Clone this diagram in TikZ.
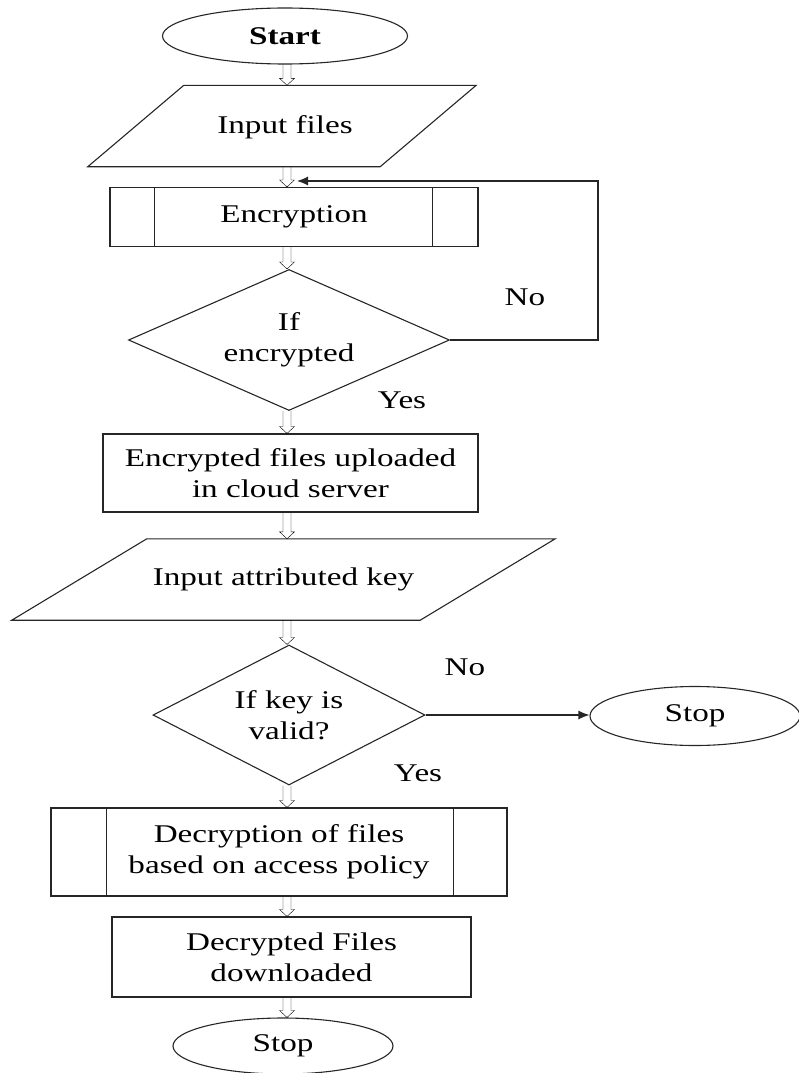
\documentclass[tikz,border=0pt]{standalone}
\usepackage{fontspec}
\setmainfont{Liberation Serif}[FakeStretch=1.3]
\usetikzlibrary{shapes.geometric,arrows.meta,calc}
\begin{document}
\begin{tikzpicture}[x=1pt,y=-1pt,
  every node/.style={font=\fontsize{25.5}{31}\selectfont, text=black},
  outline/.style={draw=black!85, line width=1.1pt},
  boxbase/.style={outline, inner sep=0pt, align=center},
  term/.style={boxbase, ellipse},
  procbox/.style={boxbase, rectangle},
  iobox/.style={inner sep=0pt, align=center, rectangle},
  decision/.style={boxbase, diamond},
  lbl/.style={inner sep=0pt},
  % hollow block arrow pointing down: two shafts and an open head
  flow/.style={draw=black!80, line width=1.3pt, line join=miter, to path={
      ($(\tikztostart)+(-4pt,0pt)$) -- ($(\tikztotarget)+(-4pt,7pt)$)
      -- ($(\tikztotarget)+(-7.5pt,7pt)$) -- (\tikztotarget)
      -- ($(\tikztotarget)+(7.5pt,7pt)$) -- ($(\tikztotarget)+(4pt,7pt)$)
      -- ($(\tikztostart)+(4pt,0pt)$)}},
  link/.style={outline, -{Latex[length=11pt,width=9pt]}}
]
\useasboundingbox (0,0) rectangle (798,1073);

% flow axis
\coordinate (ax) at (287,0);

% terminals, processes, decisions
\node[term, minimum width=245pt, minimum height=56pt] (start) at (285,36) {\bfseries Start};

\node[iobox, minimum width=388pt, minimum height=81pt] (in1) at (282,126) {};
\draw[outline] (in1.south west) -- ([xshift=96pt]in1.north west) -- (in1.north east)
      -- ([xshift=-96pt]in1.south east) -- cycle;
\node[lbl] (in1t) at (285,127) {Input files};

\node[procbox, minimum width=368pt, minimum height=59pt] (enc) at (294,217) {Encryption};
\draw[outline] ([xshift=45pt]enc.north west) -- ([xshift=45pt]enc.south west)
      ([xshift=-46pt]enc.north east) -- ([xshift=-46pt]enc.south east);

\node[decision, minimum width=321pt, minimum height=141pt, aspect=2.3] (d1) at (289,340) {If\\encrypted};

\node[procbox, minimum width=375pt, minimum height=78pt] (up) at (290.5,473) {Encrypted files uploaded\\in cloud server};

\node[iobox, minimum width=543pt, minimum height=81pt] (in2) at (283.5,579.5) {Input attributed key};
\draw[outline] (in2.south west) -- ([xshift=135pt]in2.north west) -- (in2.north east)
      -- ([xshift=-135pt]in2.south east) -- cycle;

\node[decision, minimum width=272pt, minimum height=140pt, aspect=1.9] (d2) at (289,715) {If key is\\valid?};
\node[term, minimum width=210pt, minimum height=59pt] (stop1) at (695,716) {Stop};

\node[procbox, minimum width=456pt, minimum height=88pt] (dec) at (279,852) {Decryption of files\\based on access policy};
\draw[outline] ([xshift=56pt]dec.north west) -- ([xshift=56pt]dec.south west)
      ([xshift=-54pt]dec.north east) -- ([xshift=-54pt]dec.south east);

\node[procbox, minimum width=359pt, minimum height=80pt] (dl) at (291.5,957) {Decrypted Files\\downloaded};
\node[term, minimum width=220pt, minimum height=56pt] (stop2) at (283,1046) {Stop};

% branch labels
\node[lbl] (no1) at (525,297) {No};
\node[lbl] (yes1) at (402,400) {Yes};
\node[lbl] (no2) at (465,667) {No};
\node[lbl] (yes2) at (418,773) {Yes};

% main flow
\draw (ax |- start.south) to[flow] (ax |- in1.north);
\draw (ax |- in1.south) to[flow] (ax |- enc.north);
\draw (ax |- enc.south) to[flow] (ax |- d1.north);
\draw (ax |- d1.south) to[flow] (ax |- up.north);
\draw (ax |- up.south) to[flow] (ax |- in2.north);
\draw (ax |- in2.south) to[flow] (ax |- d2.north);
\draw (ax |- d2.south) to[flow] (ax |- dec.north);
\draw (ax |- dec.south) to[flow] (ax |- dl.north);
\draw (ax |- dl.south) to[flow] (ax |- stop2.north);

% retry loop
\coordinate (loopR) at (598,181);
\coordinate (loopIn) at (297,181);
\draw[link] (d1.east) -| (loopR) -- (loopIn);

% invalid key
\draw[link] (d2.east) -- (d2.east -| stop1.west);
\end{tikzpicture}
\end{document}
